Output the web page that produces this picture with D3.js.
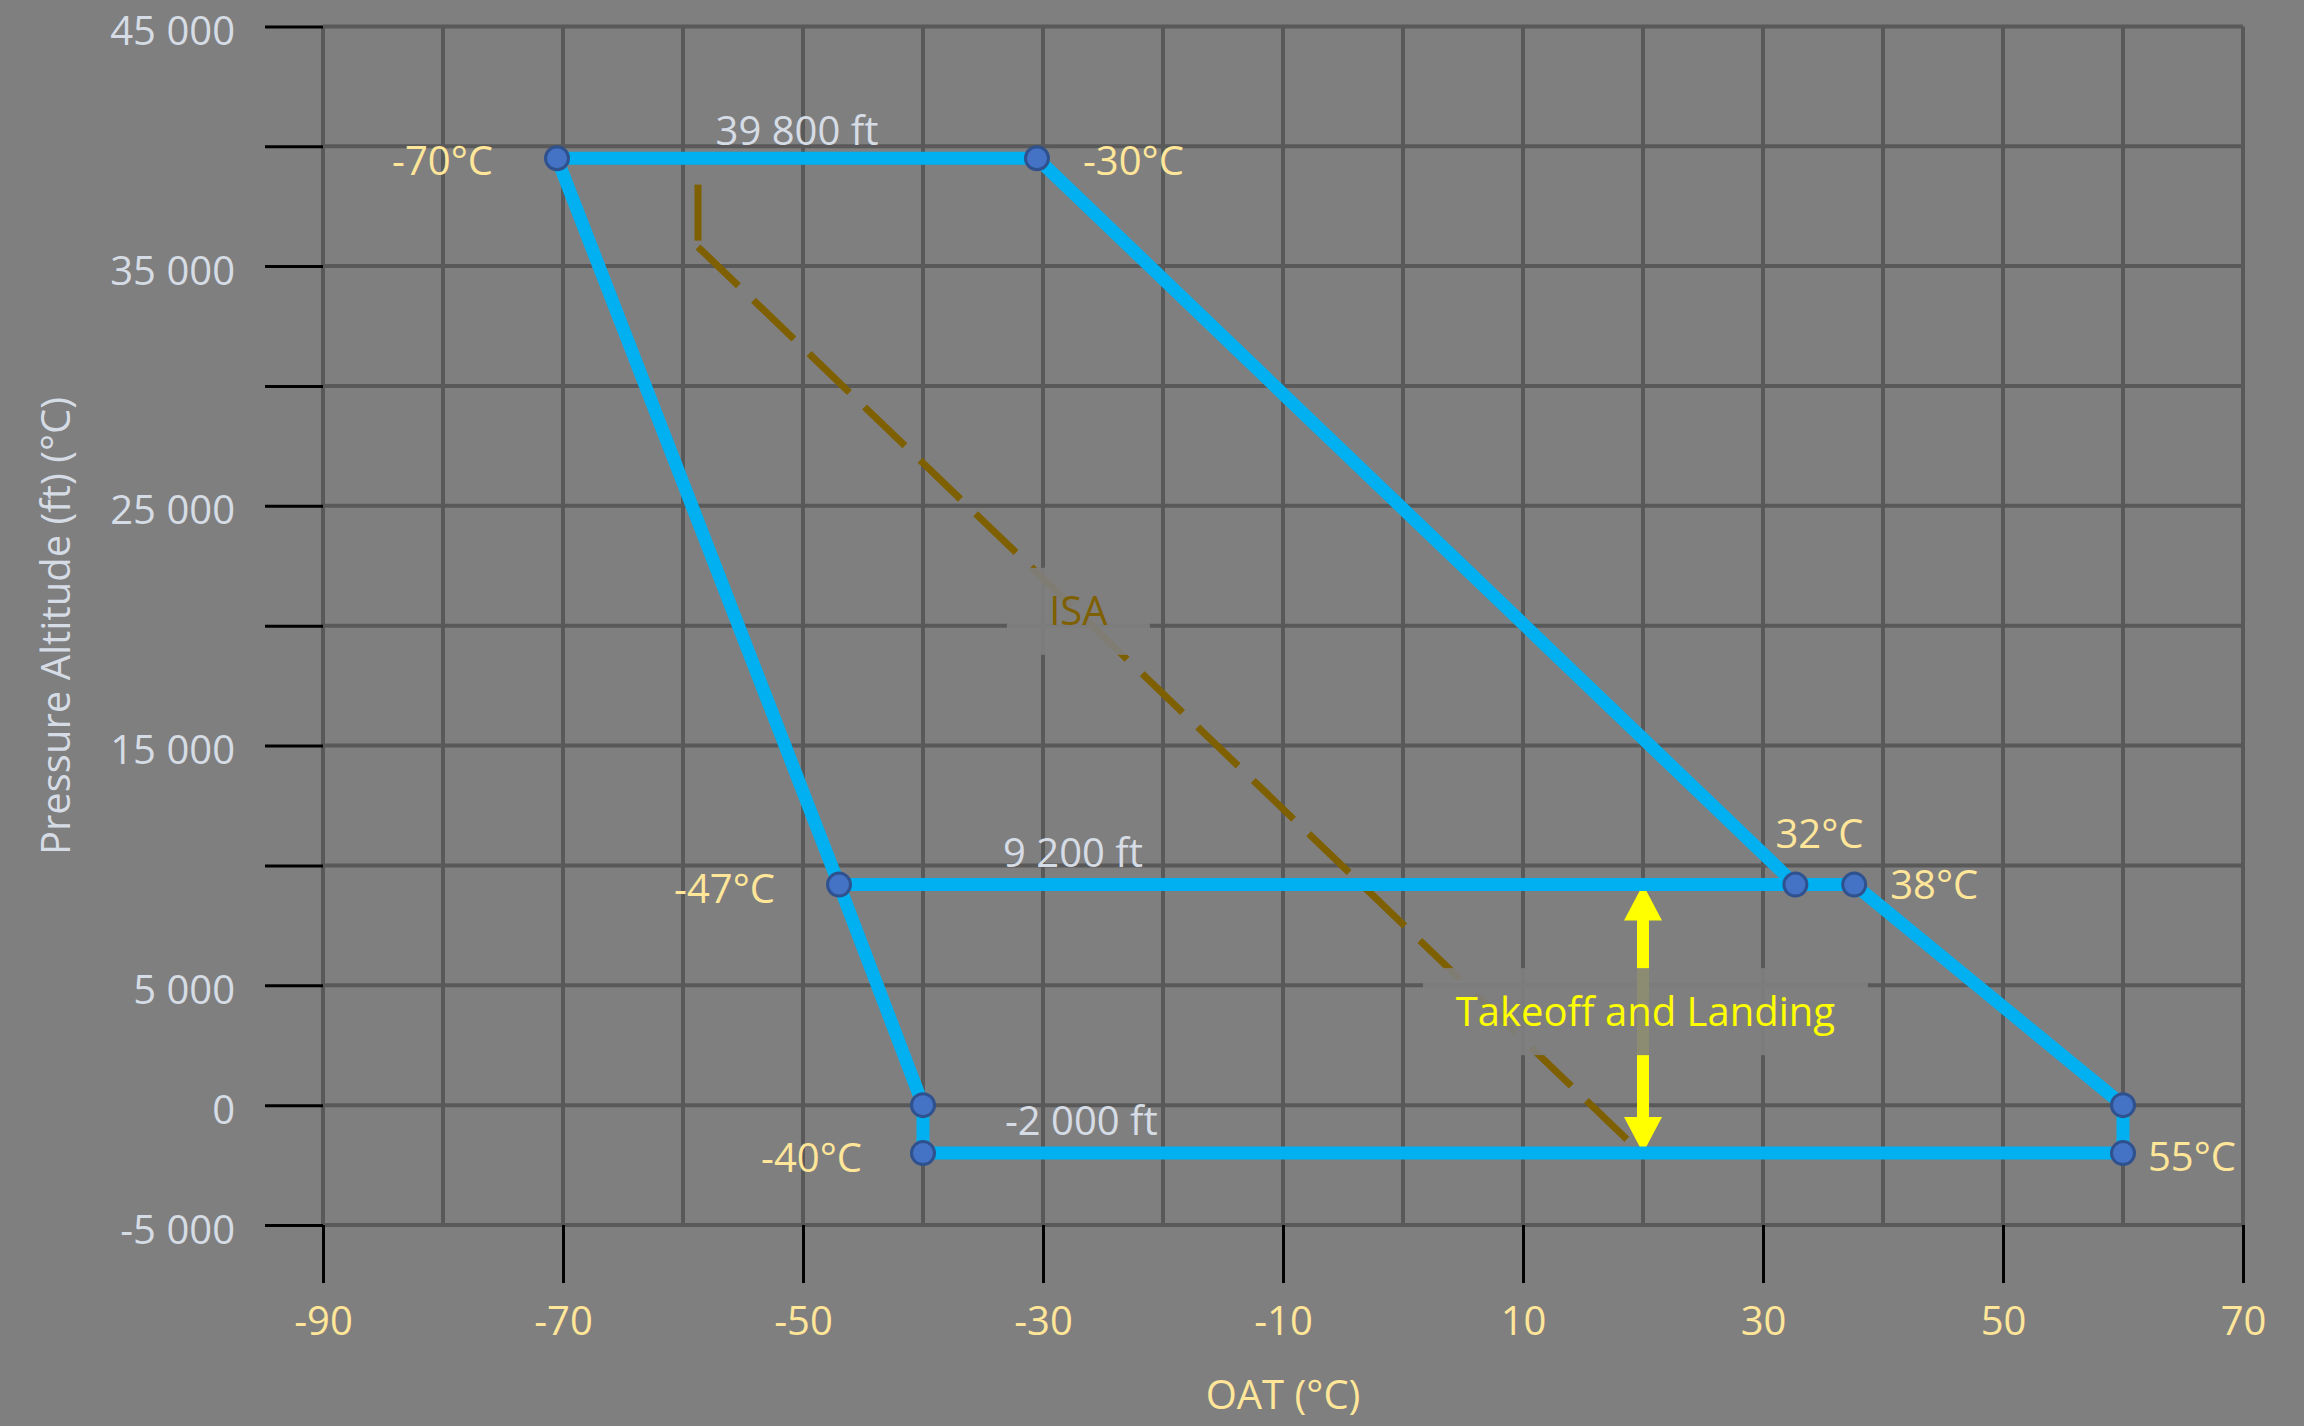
<!DOCTYPE html>
<html>
<head>
<meta charset="utf-8">
<script src="https://cdn.jsdelivr.net/npm/d3@7"></script>
<style>
  body { margin: 0; background: #7F7F7F; }
  text { font-family: "Open Sans", "Noto Sans", sans-serif; }
</style>
</head>
<body>
<div id="chart"></div>
<script>
// axis ticks
var xTicks = [-90, -70, -50, -30, -10, 10, 30, 50, 70];
var xGrid = d3.range(-90, 71, 10);
var yGrid = d3.range(-5000, 45001, 5000);
var yLabelValues = [45000, 35000, 25000, 15000, 5000, 0, -5000];

// envelope corners (OAT, altitude) and their labels
var cornerTemp = [-70.5, -30.5, 32.7, 37.6, 60, 60, -40, -40, -47];
var cornerAlt = [39500, 39500, 9200, 9200, 0, -2000, -2000, 0, 9200];
var cornerLabel = ["-70°C", "-30°C", "32°C", "38°C", "", "55°C", "-40°C", "", "-47°C"];

// the 9 200 ft cross line
var crossTemp = [-47, 32.7];
var crossAlt = [9200, 9200];

// altitude notes on the horizontal lines
var altNoteText = ["39 800 ft", "9 200 ft", "-2 000 ft"];
var altNoteTemp = [-50.5, -27.5, -26.8];
var altNoteAlt = [39500, 9200, -2000];

// ISA line
var isaTemp = [-58.75, -58.75, 18.7];
var isaAlt = [38400, 35800, -1450];

// takeoff / landing band
var tolTemp = 20;
var tolAlt = [9200, -2000];

var width = 2304, height = 1426;
var plot = { left: 323, right: 2243, top: 26.4, bottom: 1225 };

var x = d3.scaleLinear().domain([-90, 70]).range([plot.left, plot.right]);
var y = d3.scaleLinear().domain([-5000, 45000]).range([plot.bottom, plot.top]);

var fmt = d3.formatLocale({ decimal: ".", thousands: " ", grouping: [3], currency: ["", ""], minus: "-" }).format(",");

var svg = d3.select("#chart").append("svg")
    .attr("width", width)
    .attr("height", height);

svg.append("rect").attr("width", width).attr("height", height).attr("fill", "#7F7F7F");

// grid
svg.append("g").selectAll("line").data(xGrid).enter().append("line")
    .attr("x1", function(d) { return x(d); }).attr("x2", function(d) { return x(d); })
    .attr("y1", plot.top).attr("y2", plot.bottom)
    .attr("stroke", "#595959").attr("stroke-width", 4);
svg.append("g").selectAll("line").data(yGrid).enter().append("line")
    .attr("y1", function(d) { return y(d); }).attr("y2", function(d) { return y(d); })
    .attr("x1", plot.left).attr("x2", plot.right)
    .attr("stroke", "#595959").attr("stroke-width", 4);

// axes
var yAxis = svg.append("g")
    .attr("transform", "translate(" + plot.left + ",0)")
    .call(d3.axisLeft(y).tickValues(yGrid).tickSize(58).tickPadding(30)
        .tickFormat(function(d) { return yLabelValues.indexOf(d) >= 0 ? fmt(d) : ""; }));
yAxis.select(".domain").remove();
yAxis.selectAll("line").attr("stroke", "#000").attr("stroke-width", 3);
yAxis.selectAll("text").attr("fill", "#D6DCE5").attr("dy", "0.45em")
    .style("font-size", "40px").attr("font-family", null);

var xAxis = svg.append("g")
    .attr("transform", "translate(0," + plot.bottom + ")")
    .call(d3.axisBottom(x).tickValues(xTicks).tickSize(58).tickPadding(24).tickFormat(fmt));
xAxis.select(".domain").remove();
xAxis.selectAll("line").attr("stroke", "#000").attr("stroke-width", 3);
xAxis.selectAll("text").attr("fill", "#FFE699").style("font-size", "40px").attr("font-family", null);

// axis titles
svg.append("text")
    .attr("transform", "translate(70,626) rotate(-90)")
    .attr("text-anchor", "middle")
    .attr("fill", "#D6DCE5")
    .style("font-size", "40px")
    .text("Pressure Altitude (ft) (°C)");
svg.append("text")
    .attr("x", (plot.left + plot.right) / 2)
    .attr("y", 1409)
    .attr("text-anchor", "middle")
    .attr("fill", "#FFE699")
    .style("font-size", "40px")
    .text("OAT (°C)");

// ISA dashed line, drawn as two pieces so each starts with a dash
var isaLine = d3.line().x(function(d) { return x(isaTemp[d]); }).y(function(d) { return y(isaAlt[d]); });
[[0, 1], [1, 2]].forEach(function(seg) {
    svg.append("path")
        .attr("d", isaLine(seg))
        .attr("fill", "none")
        .attr("stroke", "#7F6000")
        .attr("stroke-width", 7)
        .attr("stroke-dasharray", "56,21");
});

// yellow double arrow
var ax = x(tolTemp), aTop = y(tolAlt[0]), aBot = y(tolAlt[1]);
var headL = 36, headW = 19, shaftW = 12;
svg.append("line")
    .attr("x1", ax).attr("x2", ax)
    .attr("y1", aTop + headL - 2).attr("y2", aBot - headL + 2)
    .attr("stroke", "#FFFF00").attr("stroke-width", shaftW);
svg.append("path")
    .attr("d", "M" + ax + "," + aTop + "L" + (ax - headW) + "," + (aTop + headL) + "L" + (ax + headW) + "," + (aTop + headL) + "Z" +
               "M" + ax + "," + aBot + "L" + (ax - headW) + "," + (aBot - headL) + "L" + (ax + headW) + "," + (aBot - headL) + "Z")
    .attr("fill", "#FFFF00");

// envelope
var env = d3.range(cornerTemp.length);
var envLine = d3.line().x(function(i) { return x(cornerTemp[i]); }).y(function(i) { return y(cornerAlt[i]); });
svg.append("path")
    .attr("d", envLine(env) + "Z")
    .attr("fill", "none")
    .attr("stroke", "#00B0F0")
    .attr("stroke-width", 13)
    .attr("stroke-linejoin", "round");
svg.append("path")
    .attr("d", d3.line().x(function(i) { return x(crossTemp[i]); }).y(function(i) { return y(crossAlt[i]); })([0, 1]))
    .attr("stroke", "#00B0F0")
    .attr("stroke-width", 13);

svg.append("g").selectAll("circle").data(env).enter().append("circle")
    .attr("cx", function(i) { return x(cornerTemp[i]); })
    .attr("cy", function(i) { return y(cornerAlt[i]); })
    .attr("r", 11.5)
    .attr("fill", "#4472C4")
    .attr("stroke", "#2F528F")
    .attr("stroke-width", 3);

// corner temperature labels: dx, dy, anchor
var labelOffset = [[-64, 17, "end"], [46, 17, "start"], [-20, -37, "start"], [36, 14, "start"], [0, 0, "start"],
                   [25, 18, "start"], [-61, 19, "end"], [0, 0, "start"], [-64, 18, "end"]];
svg.append("g").selectAll("text").data(env.filter(function(i) { return cornerLabel[i] !== ""; })).enter().append("text")
    .attr("x", function(i) { return x(cornerTemp[i]) + labelOffset[i][0]; })
    .attr("y", function(i) { return y(cornerAlt[i]) + labelOffset[i][1]; })
    .attr("text-anchor", function(i) { return labelOffset[i][2]; })
    .attr("fill", "#FFE699")
    .style("font-size", "40px")
    .text(function(i) { return cornerLabel[i]; });

// altitude notes
svg.append("g").selectAll("text").data(altNoteText).enter().append("text")
    .attr("x", function(d, i) { return x(altNoteTemp[i]); })
    .attr("y", function(d, i) { return y(altNoteAlt[i]) + (i === 0 ? -13 : -18); })
    .attr("text-anchor", "middle")
    .attr("fill", "#D6DCE5")
    .style("font-size", "40px")
    .text(function(d) { return d; });

// label boxes
function labelBox(cx, cy, w, h, txt, color) {
    svg.append("rect")
        .attr("x", cx - w / 2).attr("y", cy - h / 2)
        .attr("width", w).attr("height", h)
        .attr("fill", "#7F7F7F").attr("fill-opacity", 0.9);
    svg.append("text")
        .attr("x", cx).attr("y", cy + 14)
        .attr("text-anchor", "middle")
        .attr("fill", color)
        .style("font-size", "40px")
        .text(txt);
}
labelBox(x(-27.05), y(20600), 143, 87, "ISA", "#7F6000");
labelBox(x(20.2), y(3900), 445, 87, "Takeoff and Landing", "#FFFF00");
</script>
</body>
</html>
